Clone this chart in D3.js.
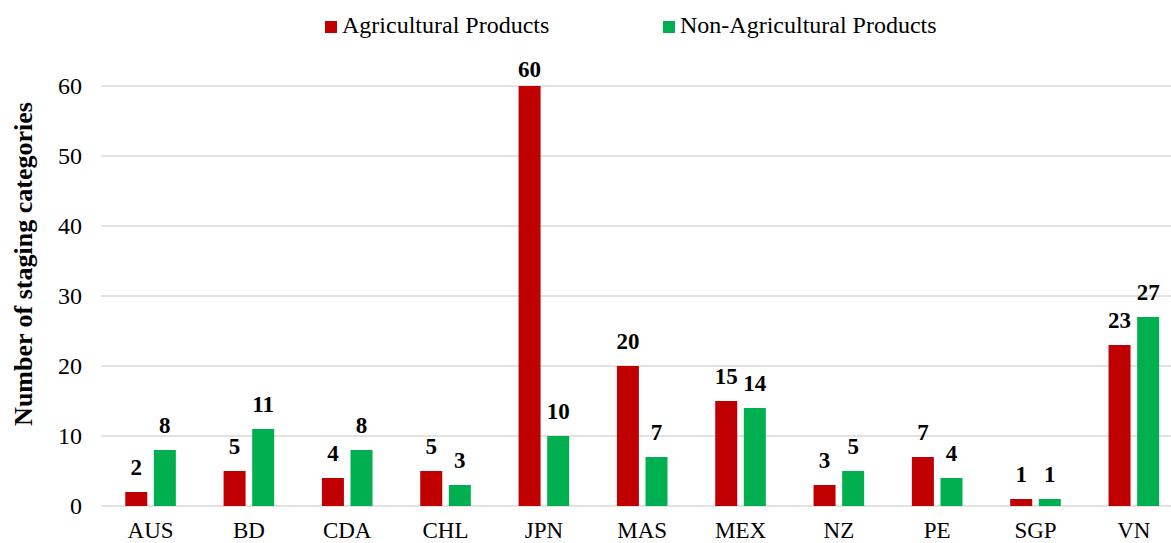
<!DOCTYPE html>
<html>
<head>
<meta charset="utf-8">
<script src="https://cdn.jsdelivr.net/npm/d3@7"></script>
<style>
  body { margin: 0; background: #fff; overflow: hidden; }
  text { font-family: "Liberation Serif", "Times New Roman", serif; }
</style>
</head>
<body>
<div id="chart"></div>
<script>
// data
var categories = ["AUS", "BD", "CDA", "CHL", "JPN", "MAS", "MEX", "NZ", "PE", "SGP", "VN"];
var agricultural = [2, 5, 4, 5, 60, 20, 15, 3, 7, 1, 23];
var nonAgricultural = [8, 11, 8, 3, 10, 7, 14, 5, 4, 1, 27];
var seriesNames = ["Agricultural Products", "Non-Agricultural Products"];
var yTicks = [0, 10, 20, 30, 40, 50, 60];

var width = 1171, height = 543;
var margin = {top: 86, bottom: 37, left: 101.4};
var plotRight = 1183; // plot area runs a little past the image edge
var colors = ["#C00000", "#00B050"];

var svg = d3.select("#chart").append("svg")
    .attr("width", width)
    .attr("height", height);

var x = d3.scaleBand()
    .domain(categories)
    .range([margin.left, plotRight]);

var y = d3.scaleLinear()
    .domain([0, 60])
    .range([height - margin.bottom, margin.top]);

// gridlines
svg.append("g")
  .selectAll("line")
  .data(yTicks)
  .enter().append("line")
    .attr("x1", margin.left)
    .attr("x2", plotRight)
    .attr("y1", function(d) { return y(d); })
    .attr("y2", function(d) { return y(d); })
    .attr("stroke", "#D9D9D9")
    .attr("stroke-width", 1.5);

// y tick labels
svg.append("g")
  .selectAll("text")
  .data(yTicks)
  .enter().append("text")
    .attr("x", 82)
    .attr("y", function(d) { return y(d); })
    .attr("dy", "0.33em")
    .attr("text-anchor", "end")
    .attr("font-size", 24)
    .attr("fill", "#000")
    .text(function(d) { return d; });

// x labels
svg.append("g")
  .selectAll("text")
  .data(categories)
  .enter().append("text")
    .attr("x", function(d) { return x(d) + x.bandwidth() / 2; })
    .attr("y", 538)
    .attr("text-anchor", "middle")
    .attr("font-size", 23)
    .attr("fill", "#000")
    .text(function(d) { return d; });

var barW = 22, gap = 6.6;
var series = [agricultural, nonAgricultural];

series.forEach(function(vals, s) {
  var offset = s === 0 ? -gap / 2 - barW : gap / 2;
  var g = svg.append("g");
  g.selectAll("rect")
    .data(vals)
    .enter().append("rect")
      .attr("x", function(d, i) { return x(categories[i]) + x.bandwidth() / 2 + offset; })
      .attr("y", function(d) { return y(d); })
      .attr("width", barW)
      .attr("height", function(d) { return y(0) - y(d); })
      .attr("fill", colors[s]);
  // labels sit above the bars, but stay inside the chart at the top
  g.selectAll("text")
    .data(vals)
    .enter().append("text")
      .attr("x", function(d, i) { return x(categories[i]) + x.bandwidth() / 2 + offset + barW / 2; })
      .attr("y", function(d) { return Math.max(y(d) - 17, margin.top - 9); })
      .attr("text-anchor", "middle")
      .attr("font-size", 23)
      .attr("font-weight", "bold")
      .attr("fill", "#000")
      .text(function(d) { return d; });
});

// y axis title
svg.append("text")
    .attr("transform", "translate(32,264) rotate(-90)")
    .attr("text-anchor", "middle")
    .attr("font-size", 26)
    .attr("font-weight", "bold")
    .attr("fill", "#000")
    .text("Number of staging categories");

// legend
var legendX = [325, 663];
var legend = svg.append("g")
  .selectAll("g")
  .data(seriesNames)
  .enter().append("g")
    .attr("transform", function(d, i) { return "translate(" + legendX[i] + ",21)"; });

legend.append("rect")
    .attr("width", 12)
    .attr("height", 12)
    .attr("fill", function(d, i) { return colors[i]; });

legend.append("text")
    .attr("x", 17)
    .attr("y", 12)
    .attr("font-size", 24)
    .attr("fill", "#000")
    .text(function(d) { return d; });
</script>
</body>
</html>
